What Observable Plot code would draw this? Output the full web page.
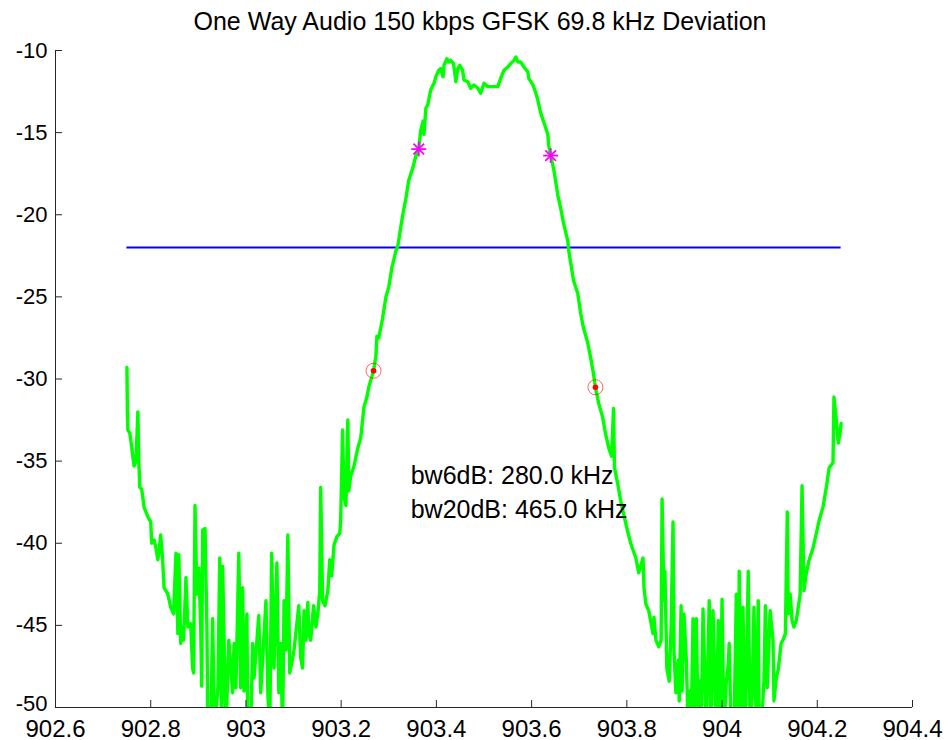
<!DOCTYPE html>
<html>
<head>
<meta charset="utf-8">
<script src="https://cdn.jsdelivr.net/npm/d3@7"></script>
<script src="https://cdn.jsdelivr.net/npm/@observablehq/plot@0.6"></script>
<style>
  html, body { margin: 0; padding: 0; background: #fff; }
  #chart svg { display: block; }
</style>
</head>
<body>
<div id="chart"></div>
<script>
const title = "One Way Audio 150 kbps GFSK 69.8 kHz Deviation";

// Spectrum trace: frequency (MHz) and power (dB)
const freq = [
902.750, 902.751, 902.752, 902.756, 902.758, 902.765, 902.769, 902.773, 902.775, 902.777,
902.781, 902.786, 902.794, 902.800, 902.802, 902.807, 902.811, 902.815, 902.817, 902.821,
902.825, 902.828, 902.836, 902.842, 902.848, 902.853, 902.857, 902.859, 902.863, 902.867,
902.869, 902.874, 902.878, 902.884, 902.888, 902.890, 902.893, 902.897, 902.901, 902.905,
902.907, 902.909, 902.914, 902.918, 902.920, 902.926, 902.930, 902.934, 902.941, 902.945,
902.949, 902.951, 902.958, 902.964, 902.972, 902.975, 902.979, 902.985, 902.989, 902.993,
902.996, 903.002, 903.004, 903.010, 903.014, 903.017, 903.027, 903.031, 903.035, 903.042,
903.046, 903.050, 903.054, 903.059, 903.065, 903.069, 903.073, 903.077, 903.080, 903.084,
903.088, 903.092, 903.098, 903.101, 903.111, 903.115, 903.119, 903.122, 903.126, 903.130,
903.132, 903.136, 903.142, 903.147, 903.151, 903.155, 903.157, 903.161, 903.166, 903.172,
903.176, 903.180, 903.185, 903.191, 903.197, 903.199, 903.203, 903.206, 903.210, 903.214,
903.216, 903.220, 903.227, 903.235, 903.241, 903.248, 903.254, 903.258, 903.264, 903.268,
903.273, 903.275, 903.279, 903.287, 903.294, 903.300, 903.306, 903.315, 903.319, 903.325,
903.330, 903.336, 903.342, 903.351, 903.357, 903.363, 903.367, 903.372, 903.374, 903.378,
903.382, 903.388, 903.395, 903.399, 903.405, 903.409, 903.414, 903.416, 903.422, 903.426,
903.430, 903.436, 903.441, 903.445, 903.449, 903.455, 903.458, 903.466, 903.472, 903.479,
903.487, 903.493, 903.500, 903.508, 903.514, 903.529, 903.535, 903.542, 903.550, 903.556,
903.563, 903.567, 903.571, 903.577, 903.584, 903.592, 903.594, 903.603, 903.609, 903.613,
903.619, 903.626, 903.634, 903.636, 903.640, 903.647, 903.655, 903.661, 903.667, 903.676,
903.678, 903.682, 903.688, 903.697, 903.703, 903.709, 903.717, 903.724, 903.730, 903.734,
903.741, 903.749, 903.755, 903.762, 903.768, 903.772, 903.774, 903.781, 903.787, 903.793,
903.802, 903.808, 903.819, 903.825, 903.834, 903.836, 903.840, 903.846, 903.855, 903.857,
903.861, 903.867, 903.872, 903.874, 903.878, 903.880, 903.884, 903.889, 903.893, 903.897,
903.899, 903.903, 903.908, 903.910, 903.914, 903.916, 903.920, 903.925, 903.929, 903.933,
903.935, 903.939, 903.941, 903.946, 903.950, 903.954, 903.956, 903.960, 903.964, 903.967,
903.973, 903.977, 903.981, 903.985, 903.988, 903.992, 903.996, 904.000, 904.004, 904.009,
904.013, 904.015, 904.019, 904.025, 904.030, 904.034, 904.036, 904.040, 904.044, 904.048,
904.051, 904.055, 904.059, 904.063, 904.067, 904.072, 904.076, 904.078, 904.082, 904.088,
904.091, 904.095, 904.099, 904.101, 904.107, 904.109, 904.114, 904.118, 904.124, 904.128,
904.133, 904.137, 904.139, 904.143, 904.147, 904.151, 904.156, 904.160, 904.164, 904.168,
904.172, 904.177, 904.183, 904.191, 904.198, 904.204, 904.212, 904.219, 904.225, 904.233,
904.235, 904.240, 904.244, 904.248, 904.250
];

const power = [
-29.3, -32.0, -33.1, -33.3, -33.7, -35.3, -35.0, -32.0, -35.0, -36.6,
-36.7, -37.8, -38.4, -38.7, -40.0, -39.8, -40.3, -41.0, -40.6, -39.5,
-41.0, -42.7, -43.1, -43.9, -44.3, -40.6, -45.5, -40.7, -46.1, -45.1,
-45.9, -42.1, -45.1, -44.9, -47.6, -47.9, -37.7, -43.1, -41.5, -45.1,
-48.7, -39.2, -39.1, -45.1, -51.5, -51.5, -44.6, -51.5, -48.8, -40.9,
-51.5, -41.4, -51.5, -45.9, -49.1, -46.1, -48.8, -40.6, -48.8, -42.7,
-49.0, -44.3, -51.5, -51.5, -46.1, -48.2, -44.4, -49.1, -47.1, -43.5,
-49.1, -51.5, -40.6, -47.6, -41.2, -49.1, -46.1, -51.5, -43.5, -46.5,
-39.5, -47.9, -47.0, -46.5, -43.8, -47.0, -47.6, -44.1, -45.9, -43.6,
-45.5, -45.9, -43.8, -45.1, -44.3, -42.9, -36.6, -43.5, -43.8, -42.9,
-41.0, -42.0, -40.1, -39.6, -39.4, -38.6, -33.1, -37.2, -37.7, -32.5,
-36.8, -35.9, -35.3, -34.2, -33.6, -31.7, -31.1, -30.5, -29.9, -29.5,
-28.6, -27.4, -27.5, -26.3, -25.0, -24.4, -23.3, -22.2, -21.9, -20.8,
-19.9, -19.0, -17.9, -17.1, -16.4, -16.0, -14.9, -14.3, -15.1, -13.5,
-13.3, -12.4, -12.0, -11.6, -11.2, -11.1, -11.6, -10.9, -10.5, -10.7,
-10.6, -10.8, -11.9, -11.1, -10.9, -11.2, -11.8, -11.9, -12.3, -12.1,
-12.3, -12.6, -12.0, -12.2, -12.2, -12.2, -11.7, -11.2, -11.0, -10.8,
-10.6, -10.4, -10.7, -10.7, -11.0, -11.3, -11.7, -12.1, -12.6, -13.0,
-13.8, -14.4, -15.1, -15.8, -16.4, -17.3, -18.8, -19.6, -20.5, -21.6,
-22.2, -22.9, -24.0, -24.8, -26.0, -26.9, -27.7, -28.7, -29.7, -30.5,
-31.5, -32.3, -33.3, -34.2, -34.7, -31.8, -35.4, -36.4, -37.4, -38.2,
-39.3, -40.0, -40.9, -41.8, -40.9, -42.7, -43.7, -44.1, -45.5, -44.5,
-45.9, -46.3, -45.9, -37.3, -43.5, -41.7, -47.6, -48.4, -45.1, -38.7,
-46.5, -49.1, -47.1, -49.6, -43.8, -49.0, -44.3, -47.1, -51.5, -49.0,
-51.5, -44.6, -51.5, -44.6, -51.5, -48.4, -51.5, -44.0, -48.4, -51.5,
-43.5, -51.5, -44.1, -48.4, -51.5, -44.7, -51.5, -43.4, -51.5, -48.4,
-47.4, -46.1, -51.5, -51.5, -43.1, -51.5, -41.7, -51.5, -43.9, -51.5,
-48.4, -41.7, -51.5, -49.6, -43.9, -51.5, -43.5, -51.5, -51.5, -48.4,
-43.8, -48.8, -45.5, -44.1, -45.9, -49.6, -48.2, -47.7, -46.1, -45.9,
-45.5, -38.1, -44.3, -43.1, -44.7, -45.1, -44.7, -43.9, -43.1, -36.5,
-42.9, -41.8, -41.0, -40.3, -39.4, -38.6, -37.8, -36.6, -35.4, -35.1,
-31.1, -32.5, -33.9, -33.3, -32.7
];

// Threshold line
const thresholdLevel = -22;
const thresholdStart = 902.75;
const thresholdEnd = 904.25;

// -6 dB bandwidth points (magenta stars)
const bw6Freq = [903.363, 903.640];
const bw6Level = [-16.0, -16.4];

// -20 dB bandwidth points (red dot + circle)
const bw20Freq = [903.268, 903.734];
const bw20Level = [-29.5, -30.5];

// Annotations
const noteText = ["bw6dB: 280.0 kHz", "bw20dB: 465.0 kHz"];
const noteFreq = [903.346, 903.346];
const noteLevel = [-35.9, -38.0];

// Axes
const xDomain = [902.6, 904.4];
const yDomain = [-50, -10];
const xTicks = [902.6, 902.8, 903, 903.2, 903.4, 903.6, 903.8, 904, 904.2, 904.4];
const yTicks = [-50, -45, -40, -35, -30, -25, -20, -15, -10];

// ---- build ----
const n = Math.min(freq.length, power.length);
const spectrum = d3.range(n).map(i => ({f: freq[i], p: power[i]}));
const bw6 = bw6Freq.map((f, i) => ({f, p: bw6Level[i]}));
const bw20 = bw20Freq.map((f, i) => ({f, p: bw20Level[i]}));
const notes = noteText.map((t, i) => ({t, f: noteFreq[i], p: noteLevel[i]}));

const W = 947, H = 740;
const mL = 55, mR = 35, mT = 50, mB = 33;
const frameW = W - mL - mR, frameH = H - mT - mB;
const font = '"Liberation Sans", Arial, Helvetica, sans-serif';
const axisColor = "#262626";
const yAxisOpts = {tickSize: 0, tickPadding: 8, fontSize: 22, tickFormat: d => String(d), label: null, fill: "#000"};

const chart = Plot.plot({
  width: W, height: H,
  marginLeft: mL, marginRight: mR, marginTop: mT, marginBottom: mB,
  style: {fontFamily: font, background: "#fff", color: "#000", overflow: "visible"},
  x: {domain: xDomain},
  y: {domain: yDomain},
  marks: [
    Plot.ruleY([thresholdLevel], {x1: thresholdStart, x2: thresholdEnd, stroke: "#0000ff", strokeWidth: 2}),
    Plot.line(spectrum, {x: "f", y: "p", stroke: "#00ff00", strokeWidth: 3.4, clip: true, strokeLinejoin: "round", strokeLinecap: "round"}),
    Plot.dot(bw6, {x: "f", y: "p", symbol: "plus", r: 4.9, stroke: "#ff00ff", strokeWidth: 1.8}),
    Plot.dot(bw6, {x: "f", y: "p", symbol: "times", r: 4.9, stroke: "#ff00ff", strokeWidth: 1.8}),
    Plot.dot(bw20, {x: "f", y: "p", r: 7.5, stroke: "#ff0000", strokeOpacity: 0.6, strokeWidth: 1, fill: "none"}),
    Plot.dot(bw20, {x: "f", y: "p", r: 2.8, fill: "#ff0000", stroke: "none"}),
    Plot.text(notes, {x: "f", y: "p", text: "t", textAnchor: "start", lineAnchor: "middle", fontSize: 25, fill: "#000"}),
    Plot.text([title], {frameAnchor: "top", dy: -29, dx: -4, lineAnchor: "middle", fontSize: 25, fill: "#000"}),
    Plot.ruleX([xDomain[0]], {stroke: axisColor, strokeWidth: 1}),
    Plot.ruleY([yDomain[0]], {stroke: axisColor, strokeWidth: 1}),
    Plot.tickY(yTicks, {y: d => d, insetRight: frameW - 7, stroke: axisColor}),
    Plot.tickX(xTicks, {x: d => d, insetTop: frameH - 7, stroke: axisColor}),
    Plot.axisY({...yAxisOpts, ticks: yTicks.filter(t => t !== yDomain[0])}),
    Plot.axisY({...yAxisOpts, ticks: [yDomain[0]], dy: -4}),
    Plot.axisX({ticks: xTicks, tickSize: 0, tickPadding: 12, fontSize: 24, tickFormat: d => String(d), label: null, fill: "#000"})
  ]
});
document.getElementById("chart").appendChild(chart);
</script>
</body>
</html>
